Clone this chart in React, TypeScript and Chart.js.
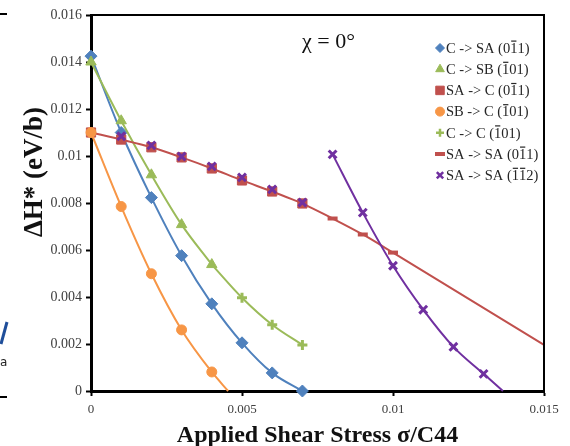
import React, { useEffect, useRef } from 'react';
import { Chart, registerables } from 'chart.js';
import { drawPoint } from 'chart.js/helpers';

Chart.register(...registerables);

// ---- Data ----
const xAxisTicks = [0, 0.005, 0.01, 0.015];
const yAxisTicks = [0, 0.002, 0.004, 0.006, 0.008, 0.01, 0.012, 0.014, 0.016];

const stress = [0, 0.001, 0.002, 0.003, 0.004, 0.005, 0.006, 0.007];
const cToSA = [0.01425, 0.011, 0.00823, 0.00576, 0.00371, 0.00205, 0.00077, 0];

const cToSBx = [0, 0.001, 0.002, 0.003, 0.004];
const cToSB = [0.014, 0.0115, 0.0092, 0.00708, 0.00538];

const cToCx = [0.004, 0.005, 0.006, 0.007];
const cToC = [0.00538, 0.00397, 0.00282, 0.00196];

const saToC = [0.011, 0.0107, 0.01037, 0.00994, 0.00947, 0.00896, 0.00849, 0.00798];

const sbToCx = [0, 0.001, 0.002, 0.003, 0.004, 0.00454];
const sbToC = [0.011, 0.00785, 0.00499, 0.0026, 0.00081, 0];

const saToSA011x = [0.007, 0.008, 0.009, 0.01, 0.015];
const saToSA011 = [0.00798, 0.00734, 0.00666, 0.00589, 0.00196];

const saToSA112MarkX = [0.001, 0.002, 0.003, 0.004, 0.005, 0.006, 0.007];
const saToSA112Mark = [0.01084, 0.01045, 0.00998, 0.00956, 0.00909, 0.00858, 0.00802];
const saToSA112x = [0.008, 0.009, 0.01, 0.011, 0.012, 0.013, 0.01364];
const saToSA112 = [0.01007, 0.00759, 0.00533, 0.00346, 0.00188, 0.00073, 0];

// '^' marks a digit drawn with an overbar (Miller index notation)
const legendLabels = [
  'C -> SA (0^11)',
  'C -> SB (^101)',
  'SA -> C (0^11)',
  'SB -> C (^101)',
  'C -> C (^101)',
  'SA -> SA (0^11)',
  'SA -> SA (^1^12)',
];

const BLUE = '#4F81BD';
const GREEN = '#9BBB59';
const RED = '#C0504D';
const ORANGE = '#F79646';
const PURPLE = '#7030A0';

const pts = (xs: number[], ys: number[]) => xs.map((x, i) => ({ x, y: ys[i] }));

const legendMarks = [
  { style: 'rectRot', color: BLUE, r: 4.5, bw: 1 },
  { style: 'triangle', color: GREEN, r: 5, bw: 1 },
  { style: 'rect', color: RED, r: 6, bw: 1 },
  { style: 'circle', color: ORANGE, r: 4.5, bw: 1 },
  { style: 'cross', color: GREEN, r: 4, bw: 2.5 },
  { style: 'line', color: RED, r: 5, bw: 4 },
  { style: 'crossRot', color: PURPLE, r: 4.5, bw: 2.5 },
];

function drawBarText(ctx: CanvasRenderingContext2D, s: string, x: number, y: number) {
  let cx = x;
  for (let i = 0; i < s.length; i++) {
    let bar = false;
    if (s[i] === '^') { bar = true; i++; }
    const ch = s[i];
    const w = ctx.measureText(ch).width;
    ctx.fillText(ch, cx, y);
    if (bar) ctx.fillRect(cx + 1, y - 8.5, w - 2, 1.2);
    cx += w;
  }
}

const overlayPlugin = {
  id: 'overlay',
  afterDraw(chart: any) {
    const ctx = chart.ctx;
    const a = chart.chartArea;
    ctx.save();
    // plot frame (top and right)
    ctx.strokeStyle = '#000';
    ctx.lineWidth = 2;
    ctx.beginPath();
    ctx.moveTo(a.left, a.top);
    ctx.lineTo(a.right, a.top);
    ctx.lineTo(a.right, a.bottom);
    ctx.stroke();

    // legend
    ctx.font = '14.5px "Liberation Serif", "Times New Roman", serif';
    ctx.textBaseline = 'middle';
    ctx.textAlign = 'left';
    legendLabels.forEach((lab, i) => {
      const y = 48 + i * 21.2;
      const m = legendMarks[i];
      ctx.fillStyle = m.color;
      ctx.strokeStyle = m.color;
      ctx.lineWidth = m.bw;
      drawPoint(ctx, { pointStyle: m.style, radius: m.r, borderWidth: m.bw, rotation: 0 } as any, 440, y);
      ctx.fillStyle = '#262626';
      drawBarText(ctx, lab, 446, y + 1);
    });

    // annotation
    ctx.fillStyle = '#111';
    ctx.font = '22px "Liberation Serif", "Times New Roman", serif';
    ctx.textBaseline = 'alphabetic';
    ctx.fillText('\u03C7 = 0\u00B0', 302, 48);

    // axis titles
    ctx.font = 'bold 24px "Liberation Serif", "Times New Roman", serif';
    ctx.textAlign = 'center';
    ctx.fillText('Applied Shear Stress \u03C3/C44', (a.left + a.right) / 2, 442);
    ctx.save();
    ctx.translate(42, 172);
    ctx.rotate(-Math.PI / 2);
    ctx.font = 'bold 27px "Liberation Serif", "Times New Roman", serif';
    ctx.textBaseline = 'alphabetic';
    ctx.fillText('\u0394H* (eV/b)', 0, 0);
    ctx.restore();

    // cropped page fragments at left edge
    ctx.fillStyle = '#000';
    ctx.fillRect(0, 13, 7, 2);
    ctx.fillRect(0, 396, 7, 2);
    ctx.strokeStyle = '#1f4e9a';
    ctx.lineWidth = 3;
    ctx.beginPath();
    ctx.moveTo(1, 344);
    ctx.lineTo(7, 322);
    ctx.stroke();
    ctx.fillStyle = '#222';
    ctx.font = '12px "DejaVu Sans", sans-serif';
    ctx.textAlign = 'left';
    ctx.fillText('a', 0, 366);
    ctx.restore();
  },
};

export default function App() {
  const ref = useRef<HTMLCanvasElement>(null);
  useEffect(() => {
    if (!ref.current) return;
    const line = (
      label: string,
      data: any[],
      color: string,
      style: string,
      r: any,
      pbw: number,
      idx: number,
      extra: any = {}
    ) => ({
      label,
      data,
      borderColor: color,
      backgroundColor: color,
      borderWidth: 2,
      pointStyle: style,
      pointRadius: r,
      pointBorderWidth: pbw,
      pointBackgroundColor: color,
      pointBorderColor: color,
      cubicInterpolationMode: 'monotone',
      clip: false,
      order: 20 - idx,
      ...extra,
    });
    const chart = new Chart(ref.current, {
      type: 'line',
      data: {
        datasets: [
          line('C -> SA', pts(stress, cToSA), BLUE, 'rectRot', 6, 1, 0),
          line('C -> SB', pts(cToSBx, cToSB), GREEN, 'triangle', 6, 1, 1),
          line('SA -> C', pts(stress, saToC), RED, 'rect', 6.5, 1, 2),
          line('SB -> C', pts(sbToCx, sbToC), ORANGE, 'circle',
            (c: any) => (c.dataIndex === sbToCx.length - 1 ? 0 : 5), 1, 3),
          line('C -> C', pts(cToCx, cToC), GREEN, 'cross',
            (c: any) => (c.dataIndex === 0 ? 0 : 5), 3, 4),
          line('SA -> SA 011', pts(saToSA011x, saToSA011), RED, 'line',
            (c: any) => (c.dataIndex === 0 || c.dataIndex === saToSA011x.length - 1 ? 0 : 5), 4, 5),
          line('SA -> SA 112 marks', pts(saToSA112MarkX, saToSA112Mark), PURPLE, 'crossRot', 5.5, 3, 6,
            { showLine: false }),
          line('SA -> SA 112', pts(saToSA112x, saToSA112), PURPLE, 'crossRot',
            (c: any) => (c.dataIndex === saToSA112x.length - 1 ? 0 : 5.5), 3, 7),
        ],
      },
      options: {
        responsive: false,
        animation: false,
        devicePixelRatio: 1,
        layout: { padding: { top: 15, right: 26, left: 0, bottom: 0 } },
        plugins: { legend: { display: false }, tooltip: { enabled: false } },
        scales: {
          x: {
            type: 'linear',
            min: 0,
            max: 0.015,
            afterFit: (s: any) => { s.height = 55; },
            afterBuildTicks: (s: any) => { s.ticks = xAxisTicks.map((v) => ({ value: v })); },
            ticks: {
              autoSkip: false,
              maxRotation: 0,
              padding: 6,
              color: '#404040',
              font: { family: '"Liberation Serif", serif', size: 13 },
              callback: (v: any) => String(Number(Number(v).toFixed(4))),
            },
            grid: { drawOnChartArea: false, drawTicks: true, tickLength: 5, tickWidth: 2, tickColor: '#000' },
            border: { display: true, color: '#000', width: 3 },
          },
          y: {
            type: 'linear',
            min: 0,
            max: 0.016,
            afterFit: (s: any) => { s.width = 91; },
            afterBuildTicks: (s: any) => { s.ticks = yAxisTicks.map((v) => ({ value: v })); },
            ticks: {
              autoSkip: false,
              padding: 4,
              color: '#404040',
              font: { family: '"Liberation Serif", serif', size: 14 },
              callback: (v: any) => String(Number(Number(v).toFixed(4))),
            },
            grid: { drawOnChartArea: false, drawTicks: true, tickLength: 5, tickWidth: 2, tickColor: '#000' },
            border: { display: true, color: '#000', width: 3 },
          },
        },
      } as any,
      plugins: [overlayPlugin],
    });
    return () => chart.destroy();
  }, []);
  return (
    <div style={{ position: 'absolute', left: 0, top: 0, width: 570, height: 446 }}>
      <canvas ref={ref} width={570} height={446} />
    </div>
  );
}
